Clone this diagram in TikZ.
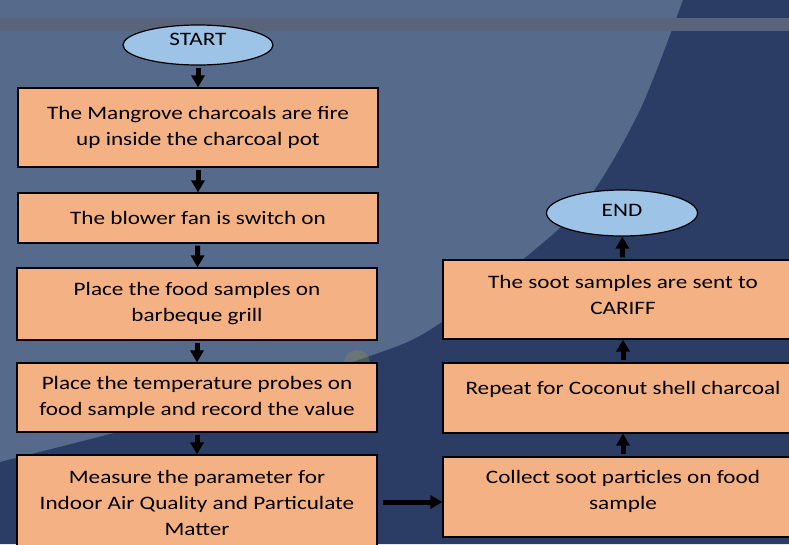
\documentclass[tikz,border=0pt]{standalone}
\usepackage{fontspec}
\setmainfont{Carlito}[FakeStretch=1.22]
\usetikzlibrary{shapes.geometric,arrows.meta}
\definecolor{bglight}{HTML}{566A8C}
\definecolor{bgdark}{HTML}{2B3D64}
\definecolor{bgband}{HTML}{59647B}
\definecolor{boxfill}{HTML}{F4B183}
\definecolor{termfill}{HTML}{9DC3E6}

\begin{document}
\begin{tikzpicture}[x=1pt,y=-1pt,
		box/.style={draw=black,line width=1.2pt,fill=boxfill,minimum width=360pt,align=center,inner sep=0pt,font=\fontsize{19}{26}\selectfont},
		term/.style={ellipse,draw=black,line width=1.2pt,fill=termfill,inner sep=0pt,font=\fontsize{19}{26}\selectfont},
		arr/.style={line width=5pt,-{Triangle[width=13pt,length=12pt]},shorten <=2pt}]
		\useasboundingbox (0,0) rectangle (789,544);
		\clip (0,0) rectangle (789,544);
		% background
		\fill [bglight] (0,0) rectangle (789,544);
		\fill [bgdark] (683,0) -- (789,0) -- (789,544) -- (0,544) --
			plot [smooth] coordinates {(0,462) (200,410) (373,355) (433,328) (520,262) (587,200) (640,110) (683,0)} -- cycle;
		\fill [bgband] (0,18) rectangle (789,31);
		\fill [gray!60!olive, opacity=0.35] (357,363) circle (13);
		
		\node [term, minimum width=150pt, minimum height=40pt, text depth=12pt] at (198,45) (s) {START};
		\node [box, minimum height=79pt] at (198,127.5) (b1) {The Mangrove charcoals are fire\\up inside the charcoal pot};
		\node [box, minimum height=50pt] at (198,218) (b2) {The blower fan is switch on};
		\node [box, minimum height=72pt] at (197,304) (b3) {Place the food samples on\\barbeque grill};
		\node [box, minimum height=69pt] at (197,397.5) (b4) {Place the temperature probes on\\food sample and record the value};
		\node [box, minimum height=95pt] at (197,502.5) (b5) {Measure the parameter for\\Indoor Air Quality and Particulate\\Matter};
		
		\node [box, minimum height=80pt, text depth=13.5pt] at (623,497) (r1) {Collect soot particles on food\\sample};
		\node [box, minimum height=70pt, text depth=21pt] at (623,398) (r2) {Repeat for Coconut shell charcoal};
		\node [box, minimum height=79pt, text depth=10pt] at (623,299.5) (r3) {The soot samples are sent to\\CARIFF};
		\node [term, minimum width=151pt, minimum height=46pt, text depth=5pt] at (622,213) (e) {END};
		
		\draw [arr] (s) -- (b1);
		\draw [arr] (b1) -- (b2);
		\draw [arr] (b2) -- (b3);
		\draw [arr] (b3) -- (b4);
		\draw [arr] (b4) -- (b5);
		\draw [arr, shorten <=5pt] (b5.east |- 0,502) -- (r1.west |- 0,502);
		\draw [arr] (r1) -- (r2);
		\draw [arr] (r2) -- (r3);
		\draw [arr] (r3) -- (e);
	\end{tikzpicture}
\end{document}
